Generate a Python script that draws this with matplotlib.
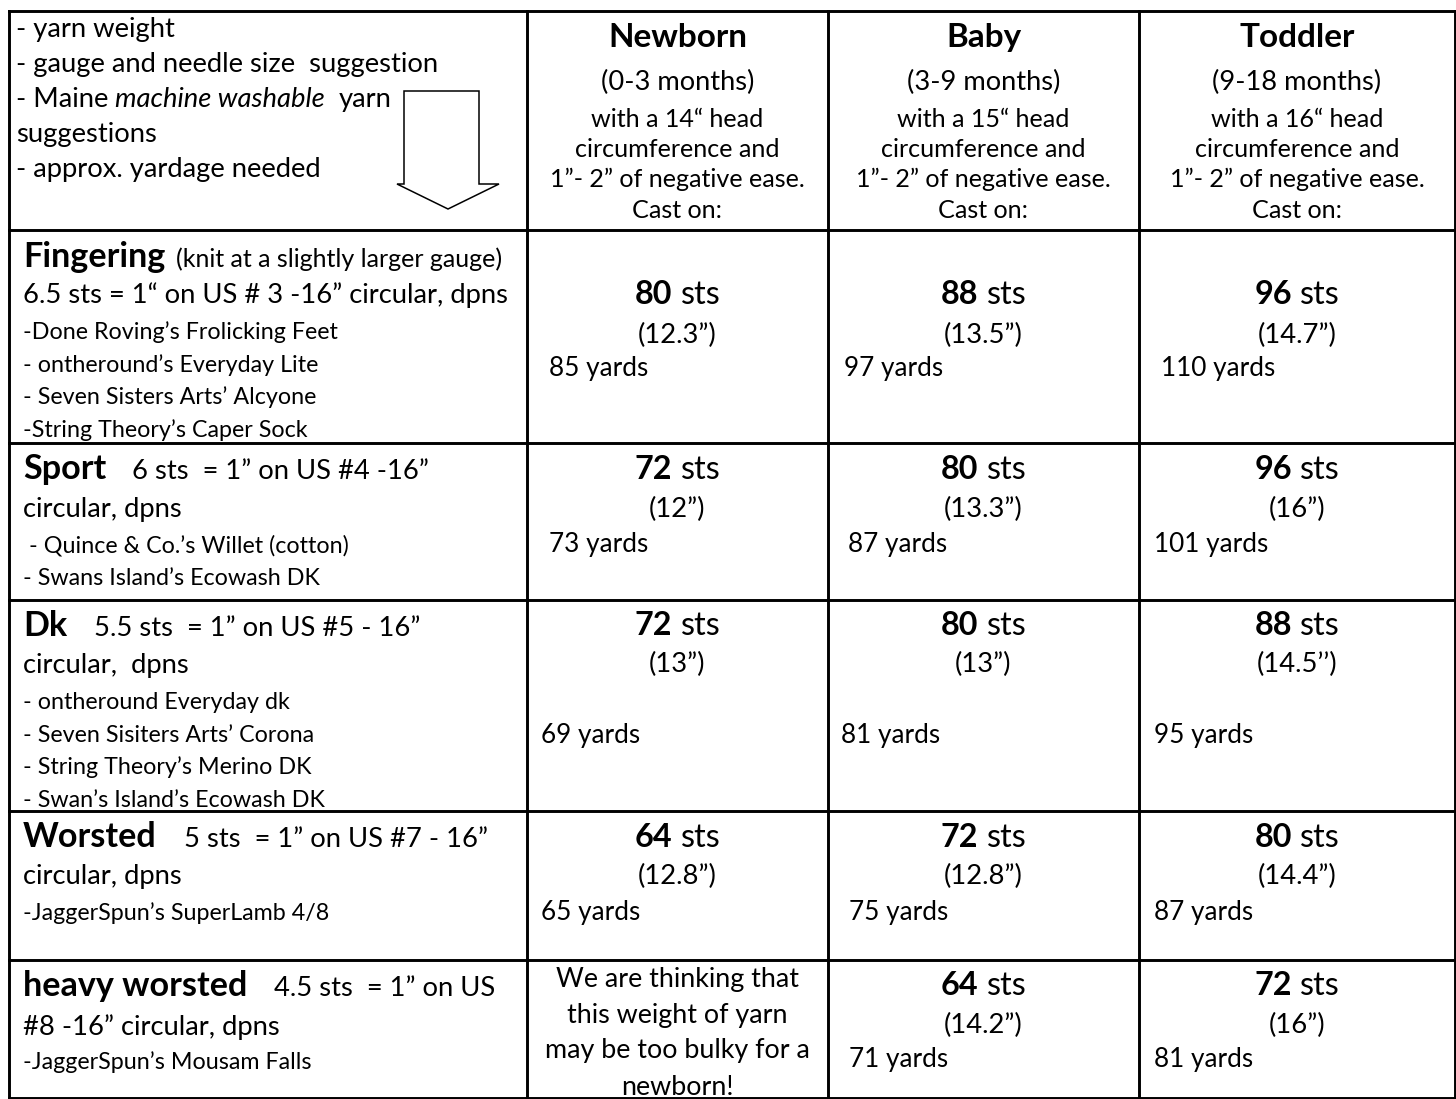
import matplotlib
matplotlib.use("Agg")
import matplotlib.pyplot as plt
from matplotlib.patches import Polygon

plt.rcParams['font.family'] = ['Lato', 'DejaVu Sans']

# ---------------- data ----------------
size_names = ["Newborn", "Baby", "Toddler"]
age_ranges = ["(0-3 months)", "(3-9 months)", "(9-18 months)"]
head_circ = ["14“", "15“", "16“"]

weights = ["Fingering", "Sport", "Dk", "Worsted", "heavy worsted"]
weight_notes = ["(knit at a slightly larger gauge)",
                "6 sts  = 1” on US #4 -16”",
                "5.5 sts  = 1” on US #5 - 16”",
                "5 sts  = 1” on US #7 - 16”",
                "4.5 sts  = 1” on US"]
gauge_lines = ["6.5 sts = 1“ on US # 3 -16” circular, dpns",
               "circular, dpns",
               "circular,  dpns",
               "circular, dpns",
               "#8 -16” circular, dpns"]
yarn_suggestions = [
    ["-Done Roving’s Frolicking Feet", "- ontheround’s Everyday Lite",
     "- Seven Sisters Arts’ Alcyone", "-String Theory’s Caper Sock"],
    [" - Quince & Co.’s Willet (cotton)", "- Swans Island’s Ecowash DK"],
    ["- ontheround Everyday dk", "- Seven Sisiters Arts’ Corona",
     "- String Theory’s Merino DK", "- Swan’s Island’s Ecowash DK"],
    ["-JaggerSpun’s SuperLamb 4/8"],
    ["-JaggerSpun’s Mousam Falls"],
]
cast_on = [[80, 88, 96], [72, 80, 96], [72, 80, 88], [64, 72, 80], [None, 64, 72]]
finished_width = [["12.3”", "13.5”", "14.7”"], ["12”", "13.3”", "16”"],
                  ["13”", "13”", "14.5’’"], ["12.8”", "12.8”", "14.4”"],
                  [None, "14.2”", "16”"]]
yardage = [[85, 97, 110], [73, 87, 101], [69, 81, 95], [65, 75, 87], [None, 71, 81]]
newborn_note = ["We are thinking that", "this weight of yarn",
                "may be too bulky for a", "newborn!"]

# ---------------- layout ----------------
W, H = 1456, 1099
col_x = [9, 527, 828, 1139, 1455]
row_y = [11, 230, 443, 600, 811, 960, 1098]
hdr_base = [47, 90, 127, 157, 187, 218]
label_base = [267, 479, 636, 847, 996]
gauge_base = [303, 517, 673, 884, 1035]
yarn_base = [339, 552, 709, 920, 1069]
yarn_step = 32.7
note_gap = [11, 26, 27, 27, 27]
sts_base = [304, 479, 635, 847, 995]
inch_base = [343, 517, 672, 884, 1033]
yard_base = [376, 552, 743, 920, 1067]
yard_off = [[22, 16, 22], [22, 20, 15], [14, 13, 15], [14, 21, 15], [None, 21, 15]]
nb_base = [987, 1023, 1058, 1095]

fig = plt.figure(figsize=(W / 100, H / 100), dpi=100)
ax = fig.add_axes([0, 0, 1, 1])
ax.set_xlim(0, W)
ax.set_ylim(H, 0)
ax.axis('off')
R = fig.canvas.get_renderer()


def tw(s, size, weight='normal', style='normal'):
    t = ax.text(0, 0, s, fontsize=size, fontweight=weight, fontstyle=style)
    w = t.get_window_extent(renderer=R).width
    t.remove()
    return w


def fit(sample, target, weight='normal'):
    return 10.0 * target / tw(sample, 10.0, weight)


S_list = fit("- gauge and needle size  suggestion", 423)
S_hdr = fit("Newborn", 140, 'bold')
S_months = fit("(0-3 months)", 153)
S_hsmall = fit("circumference and", 205)
S_label = fit("Fingering", 142, 'bold')
S_note = fit("(knit at a slightly larger gauge)", 326)
S_yarn = fit("-Done Roving’s Frolicking Feet", 313)
S_sts = fit("80 sts", 85)
S_inch = fit("(12.3”)", 79)
S_yards = fit("85 yards", 99)
S_nb = fit("may be too bulky for a", 266)


def space(size, weight='normal'):
    return tw("a a", size, weight) - tw("aa", size, weight)


def runs(x, y, parts, ha='left'):
    """parts: list of (text, size, weight, style, gap_px_before)"""
    widths = [tw(p[0], p[1], p[2], p[3]) for p in parts]
    total = sum(widths) + sum(p[4] for p in parts)
    if ha == 'center':
        x = x - total / 2
    cur = x
    for p, w in zip(parts, widths):
        cur += p[4]
        ax.text(cur, y, p[0], fontsize=p[1], fontweight=p[2], fontstyle=p[3],
                ha='left', va='baseline', color='black')
        cur += w


# ---------------- grid ----------------
for x in col_x:
    ax.plot([x, x], [row_y[0], row_y[-1]], color='black', lw=2.1,
            solid_capstyle='projecting')
for y in row_y:
    ax.plot([col_x[0], col_x[-1]], [y, y], color='black', lw=2.1,
            solid_capstyle='projecting')

# arrow in header
arrow = Polygon([(404, 91), (479, 91), (479, 184), (499, 184), (448, 209),
                 (397, 184), (404, 184)], closed=True, facecolor='white',
                edgecolor='black', lw=1.1, joinstyle='miter')
ax.add_patch(arrow)

# header left list
hx = 16
ax.text(hx, 37, "- yarn weight", fontsize=S_list, va='baseline')
ax.text(hx, 72, "- gauge and needle size  suggestion", fontsize=S_list, va='baseline')
sp = space(S_list)
runs(hx, 107, [("- Maine", S_list, 'normal', 'normal', 0),
               ("machine washable", S_list, 'normal', 'italic', sp),
               ("yarn", S_list, 'normal', 'normal', 2 * sp)])
ax.text(hx, 142, "suggestions", fontsize=S_list, va='baseline')
ax.text(hx, 177, "- approx. yardage needed", fontsize=S_list, va='baseline')

# header size columns
for i in range(3):
    cx = (col_x[i + 1] + col_x[i + 2]) / 2
    ax.text(cx, hdr_base[0], size_names[i], fontsize=S_hdr, fontweight='bold',
            ha='center', va='baseline')
    ax.text(cx, hdr_base[1], age_ranges[i], fontsize=S_months, ha='center', va='baseline')
    ax.text(cx, hdr_base[2], f"with a {head_circ[i]} head", fontsize=S_hsmall,
            ha='center', va='baseline')
    ax.text(cx, hdr_base[3], "circumference and", fontsize=S_hsmall,
            ha='center', va='baseline')
    ax.text(cx, hdr_base[4], "1”- 2” of negative ease.", fontsize=S_hsmall,
            ha='center', va='baseline')
    ax.text(cx, hdr_base[5], "Cast on:", fontsize=S_hsmall, ha='center', va='baseline')

# body rows
lx = 23
for r in range(5):
    note_size = S_note if r == 0 else S_list
    runs(lx, label_base[r], [(weights[r], S_label, 'bold', 'normal', 0),
                             (weight_notes[r], note_size, 'normal', 'normal', note_gap[r])])
    ax.text(lx, gauge_base[r], gauge_lines[r], fontsize=S_list, va='baseline')
    for k, yarn in enumerate(yarn_suggestions[r]):
        ax.text(lx, yarn_base[r] + k * yarn_step, yarn, fontsize=S_yarn, va='baseline')

    for c in range(3):
        x0 = col_x[c + 1]
        cx = (col_x[c + 1] + col_x[c + 2]) / 2
        n = cast_on[r][c]
        if n is None:
            for k, line in enumerate(newborn_note):
                ax.text(cx, nb_base[k], line, fontsize=S_nb,
                        ha='center', va='baseline')
            continue
        runs(cx, sts_base[r], [(str(n), S_sts, 'bold', 'normal', 0),
                               ("sts", S_sts, 'normal', 'normal', space(S_sts))],
             ha='center')
        ax.text(cx, inch_base[r], f"({finished_width[r][c]})", fontsize=S_inch,
                ha='center', va='baseline')
        ax.text(x0 + yard_off[r][c], yard_base[r], f"{yardage[r][c]} yards",
                fontsize=S_yards, va='baseline')

fig.savefig("out.png", dpi=100, facecolor='white')
